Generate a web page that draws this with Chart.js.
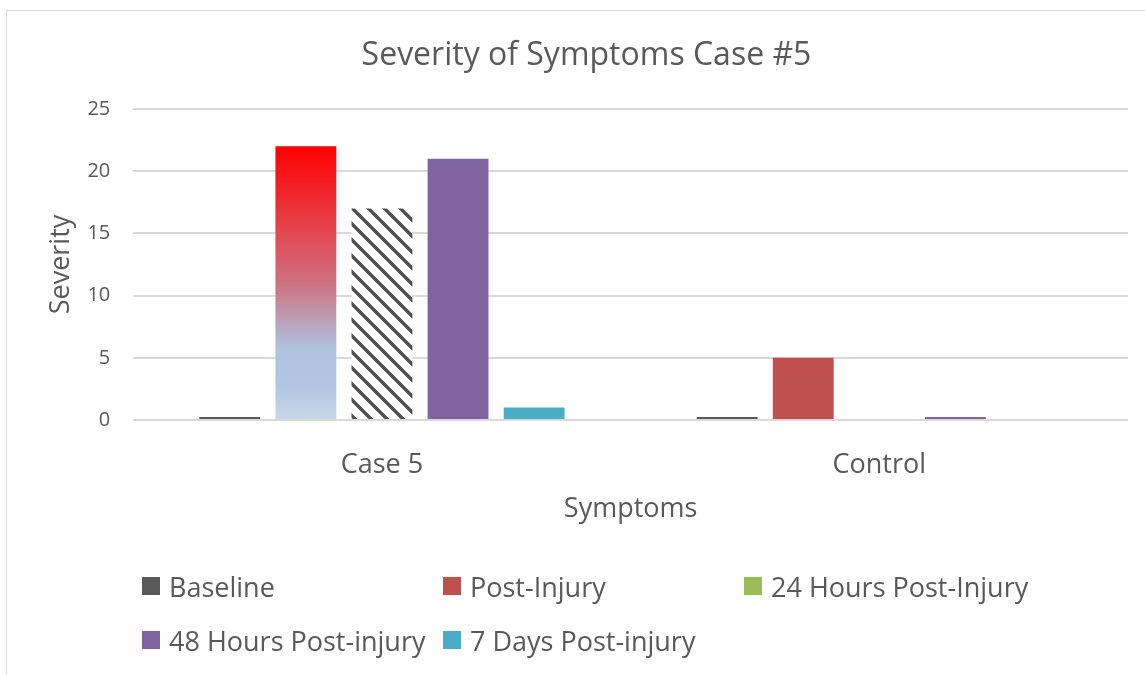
<!DOCTYPE html>
<html>
<head>
<meta charset="utf-8">
<script src="https://cdn.jsdelivr.net/npm/chart.js@4"></script>
<style>
  html, body { margin: 0; padding: 0; background: #fff; }
  #frame {
    position: absolute; left: 6px; top: 10px; width: 1139px; height: 665px;
    border-left: 1px solid #d9d9d9; border-top: 1px solid #d9d9d9;
  }
  #wrap { position: absolute; left: 0; top: 0; width: 1145px; height: 675px; }
  #legend {
    position: absolute; left: 142px; top: 566px; width: 920px;
    display: grid; grid-template-columns: 301px 301px 318px; row-gap: 14px;
    font-family: "Open Sans", sans-serif; font-size: 27px; color: #595959;
  }
  #legend .item { display: flex; align-items: center; height: 40px; white-space: nowrap; }
  #legend .box { width: 18px; height: 18px; margin-right: 9px; flex: none; }
</style>
</head>
<body>
<div id="frame"></div>
<div id="wrap"><canvas id="myChart" width="1145" height="675"></canvas></div>
<div id="legend"></div>
<script>
const categories = ['Case 5', 'Control'];
const seriesNames = ['Baseline', 'Post-Injury', '24 Hours Post-Injury', '48 Hours Post-injury', '7 Days Post-injury'];
const seriesColors = ['#595959', '#C0504D', '#9BBB59', '#8064A2', '#4BACC6'];
const baseline = [0.25, 0.25];
const postInjury = [22, 5];
const hours24 = [17, 0];
const hours48 = [21, 0.25];
const days7 = [1, 0];
const yTicks = [0, 5, 10, 15, 20, 25];

// diagonal hatch used on the 24 hour bar
function makeHatch() {
    const c = document.createElement('canvas');
    c.width = 16; c.height = 16;
    const g = c.getContext('2d');
    g.fillStyle = '#ffffff';
    g.fillRect(0, 0, 16, 16);
    g.strokeStyle = '#505050';
    g.lineWidth = 3.5;
    g.beginPath();
    g.moveTo(-4, -4); g.lineTo(20, 20);
    g.moveTo(-4, 12); g.lineTo(4, 20);
    g.moveTo(12, -4); g.lineTo(20, 4);
    g.stroke();
    return g.createPattern(c, 'repeat');
}

// red to pale blue fade on the Case 5 post-injury bar
function postInjuryFill(context) {
    if (context.dataIndex !== 0) return seriesColors[1];
    const chart = context.chart;
    if (!chart.chartArea) return seriesColors[1];
    const y = chart.scales.y;
    const top = y.getPixelForValue(postInjury[0]);
    const bottom = y.getPixelForValue(0);
    const grad = chart.ctx.createLinearGradient(0, top, 0, bottom);
    grad.addColorStop(0, '#FF0000');
    grad.addColorStop(0.25, '#E8383F');
    grad.addColorStop(0.5, '#CF7281');
    grad.addColorStop(0.68, '#B5AFC9');
    grad.addColorStop(0.75, '#AFC4E0');
    grad.addColorStop(0.88, '#B0C6E1');
    grad.addColorStop(1, '#C9D8EA');
    return grad;
}

let hatch = null;
function hatchFill() {
    if (!hatch) hatch = makeHatch();
    return hatch;
}

const values = [baseline, postInjury, hours24, hours48, days7];
const fills = [seriesColors[0], postInjuryFill, hatchFill, seriesColors[3], seriesColors[4]];

const font = '"Open Sans", sans-serif';
const ctx = document.getElementById('myChart');
const PLOT = new Chart(ctx, {
    type: 'bar',
    data: {
        labels: categories,
        datasets: seriesNames.map((name, i) => ({
            label: name,
            data: values[i],
            backgroundColor: fills[i],
            borderWidth: 0,
            categoryPercentage: 0.765,
            barPercentage: 0.8
        }))
    },
    options: {
        responsive: false,
        animation: false,
        layout: { padding: { left: 45, right: 17, top: 0, bottom: 145 } },
        plugins: {
            legend: { display: false },
            tooltip: { enabled: false },
            title: {
                display: true,
                text: 'Severity of Symptoms Case #5',
                color: '#595959',
                font: { family: font, size: 32, weight: 'normal' },
                padding: { top: 37, bottom: 33.6 }
            }
        },
        scales: {
            x: {
                grid: { display: false, drawTicks: false },
                border: { display: false },
                ticks: { color: '#595959', font: { family: font, size: 27 }, padding: 29 },
                title: {
                    display: true, text: 'Symptoms', color: '#595959',
                    font: { family: font, size: 27 }, padding: { top: -16.8, bottom: 4 }
                }
            },
            y: {
                min: 0, max: 25,
                afterBuildTicks: axis => { axis.ticks = yTicks.map(v => ({ value: v })); },
                grid: { color: '#d9d9d9', lineWidth: 2, drawTicks: false },
                border: { display: false },
                ticks: { color: '#595959', font: { family: font, size: 20 }, padding: 23 },
                title: {
                    display: true, text: 'Severity', color: '#595959',
                    font: { family: font, size: 27 }, padding: { top: 0, bottom: -13 }
                }
            }
        }
    }
});

// legend laid out on a grid like the original
const legend = document.getElementById('legend');
seriesNames.forEach((name, i) => {
    const item = document.createElement('div');
    item.className = 'item';
    const box = document.createElement('span');
    box.className = 'box';
    box.style.background = seriesColors[i];
    item.appendChild(box);
    item.appendChild(document.createTextNode(name));
    legend.appendChild(item);
});
</script>
</body>
</html>
